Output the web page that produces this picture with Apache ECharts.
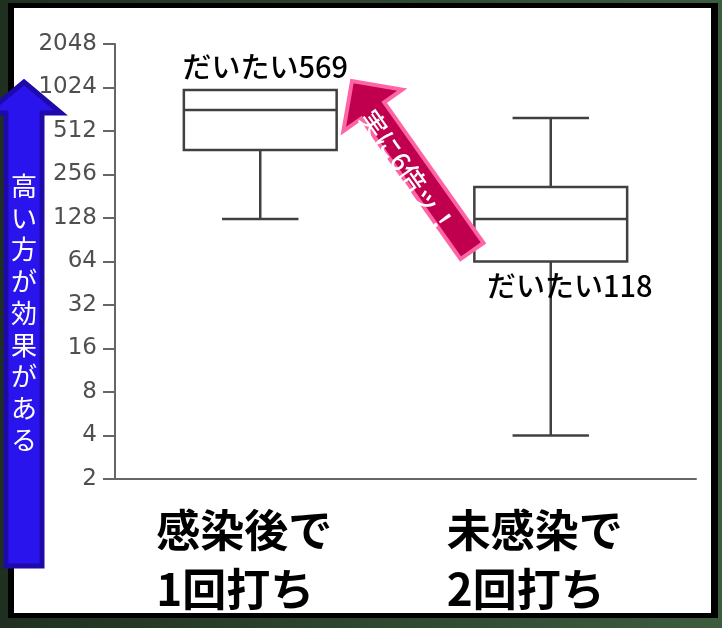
<!DOCTYPE html>
<html>
<head>
<meta charset="utf-8">
<script src="https://cdn.jsdelivr.net/npm/echarts@6/dist/echarts.min.js"></script>
<style>
  html, body { margin: 0; padding: 0; }
  #chart { width: 722px; height: 628px; }
</style>
</head>
<body>
<div id="chart"></div>
<script>
// Antibody titer after vaccination, log2 scale
const categories = ['感染後で\n1回打ち', '未感染で\n2回打ち'];
const whiskerLow = [126, 4];
const quartile1 = [378, 64];
const medians = [715, 126];
const quartile3 = [985, 210];
const whiskerHigh = [985, 630];
const geoMeans = [569, 118];
const yTicks = [2, 4, 8, 16, 32, 64, 128, 256, 512, 1024, 2048];

const boxData = categories.map((c, i) => [i, whiskerLow[i], quartile1[i], medians[i], quartile3[i], whiskerHigh[i], geoMeans[i]]);

const LINE = '#404040';

function renderBox(params, api) {
  const i = api.value(0);
  const lo = api.value(1), q1 = api.value(2), med = api.value(3), q3 = api.value(4), hi = api.value(5);
  const gm = api.value(6);
  const band = api.size([1, 0])[0];
  const bw = band * 0.526;
  const cw = bw * 0.5;
  const cx = api.coord([i, med])[0];
  const y = v => api.coord([i, v])[1];
  const st = { stroke: LINE, lineWidth: 2.5, fill: null };
  const kids = [];
  // lower whisker
  if (lo < q1) {
    kids.push({ type: 'line', shape: { x1: cx, y1: y(q1), x2: cx, y2: y(lo) }, style: st });
    kids.push({ type: 'line', shape: { x1: cx - cw / 2, y1: y(lo), x2: cx + cw / 2, y2: y(lo) }, style: st });
  }
  // upper whisker
  if (hi > q3) {
    kids.push({ type: 'line', shape: { x1: cx, y1: y(q3), x2: cx, y2: y(hi) }, style: st });
    kids.push({ type: 'line', shape: { x1: cx - cw / 2, y1: y(hi), x2: cx + cw / 2, y2: y(hi) }, style: st });
  }
  // box and median
  kids.push({ type: 'rect', shape: { x: cx - bw / 2, y: y(q3), width: bw, height: y(q1) - y(q3) },
              style: { stroke: LINE, lineWidth: 2.5, fill: '#fff' } });
  kids.push({ type: 'line', shape: { x1: cx - bw / 2, y1: y(med), x2: cx + bw / 2, y2: y(med) }, style: st });
  // approximate value note: above the first box, below the second
  const above = i === 0;
  kids.push({
    type: 'text',
    x: cx + (above ? 5 : 19),
    y: above ? y(q3) - 23 : y(q1) + 24,
    style: {
      text: 'だいたい' + gm,
      fill: '#000',
      font: '500 29px "Noto Sans CJK JP"',
      align: 'center',
      verticalAlign: 'middle'
    },
    z2: 10
  });
  return { type: 'group', children: kids };
}

// arrow polygon from tail centre to tip
function arrowPoints(tail, tip, shaftHalf, headHalf, headLen) {
  const dx = tip[0] - tail[0], dy = tip[1] - tail[1];
  const len = Math.hypot(dx, dy);
  const ux = dx / len, uy = dy / len;
  const nx = -uy, ny = ux;
  const bx = tip[0] - ux * headLen, by = tip[1] - uy * headLen;
  return [
    [tail[0] + nx * shaftHalf, tail[1] + ny * shaftHalf],
    [bx + nx * shaftHalf, by + ny * shaftHalf],
    [bx + nx * headHalf, by + ny * headHalf],
    [tip[0], tip[1]],
    [bx - nx * headHalf, by - ny * headHalf],
    [bx - nx * shaftHalf, by - ny * shaftHalf],
    [tail[0] - nx * shaftHalf, tail[1] - ny * shaftHalf]
  ];
}

const chart = echarts.init(document.getElementById('chart'));
chart.setOption({
  backgroundColor: {
    type: 'linear', x: 0, y: 0, x2: 1, y2: 0,
    colorStops: [{ offset: 0, color: '#1f3020' }, { offset: 1, color: '#3d5c3e' }]
  },
  animation: false,
  grid: { left: 115, right: 26, top: 44, bottom: 149 },
  xAxis: {
    type: 'category',
    data: categories,
    axisLine: { lineStyle: { color: '#666', width: 2 } },
    axisTick: { show: false },
    axisLabel: {
      margin: 22,
      formatter: v => v.split('\n').map(s => '{a|' + s + '}').join('\n'),
      rich: {
        a: {
          width: 208,
          align: 'left',
          fontFamily: 'Noto Sans CJK JP',
          fontWeight: 'bold',
          fontSize: 44,
          lineHeight: 59,
          color: '#000'
        }
      }
    },
    z: 5
  },
  yAxis: {
    type: 'log',
    logBase: 2,
    min: yTicks[0],
    max: yTicks[yTicks.length - 1],
    interval: 1,
    axisLine: { show: true, lineStyle: { color: '#666', width: 2 } },
    axisTick: { show: true, length: 12, lineStyle: { color: '#666', width: 2 } },
    splitLine: { show: false },
    axisLabel: {
      margin: 18,
      color: '#4f4f4f',
      fontFamily: 'DejaVu Sans',
      fontSize: 23,
      formatter: v => String(Math.round(v))
    }
  },
  series: [{
    type: 'custom',
    renderItem: renderBox,
    data: boxData,
    encode: { x: 0, y: [1, 2, 3, 4, 5] },
    z: 3
  }],
  graphic: {
    elements: [
      // framed white panel
      { type: 'rect', z: -100, shape: { x: 8, y: 3, width: 710, height: 615 }, style: { fill: '#000' } },
      { type: 'rect', z: -99, shape: { x: 14, y: 8, width: 697, height: 605 }, style: { fill: '#fff' } },
      // blue "higher is better" arrow
      { type: 'polygon', z: 100,
        shape: { points: arrowPoints([24, 566], [24, 82], 18, 37, 31) },
        style: { fill: '#2a14ee', stroke: '#1e0aa8', lineWidth: 5, lineJoin: 'miter' } },
      { type: 'text', z: 101, x: 24, y: 313,
        style: { text: '高\nい\n方\nが\n効\n果\nが\nあ\nる', fill: '#fff',
                 font: '26px "Noto Sans CJK JP"', lineHeight: 31.75, align: 'center', verticalAlign: 'middle' } },
      // pink "6x" arrow
      { type: 'polygon', z: 100,
        shape: { points: arrowPoints([472, 251], [352, 81], 14, 36, 36) },
        style: { fill: '#c0004e', stroke: '#ff64a4', lineWidth: 4, lineJoin: 'miter' } },
      { type: 'text', z: 101, x: 408, y: 172, rotation: -0.956,
        style: { text: '実に6倍ッ！', fill: '#fff', font: '500 26px "Noto Sans CJK JP"',
                 align: 'center', verticalAlign: 'middle' } }
    ]
  }
});
</script>
</body>
</html>
